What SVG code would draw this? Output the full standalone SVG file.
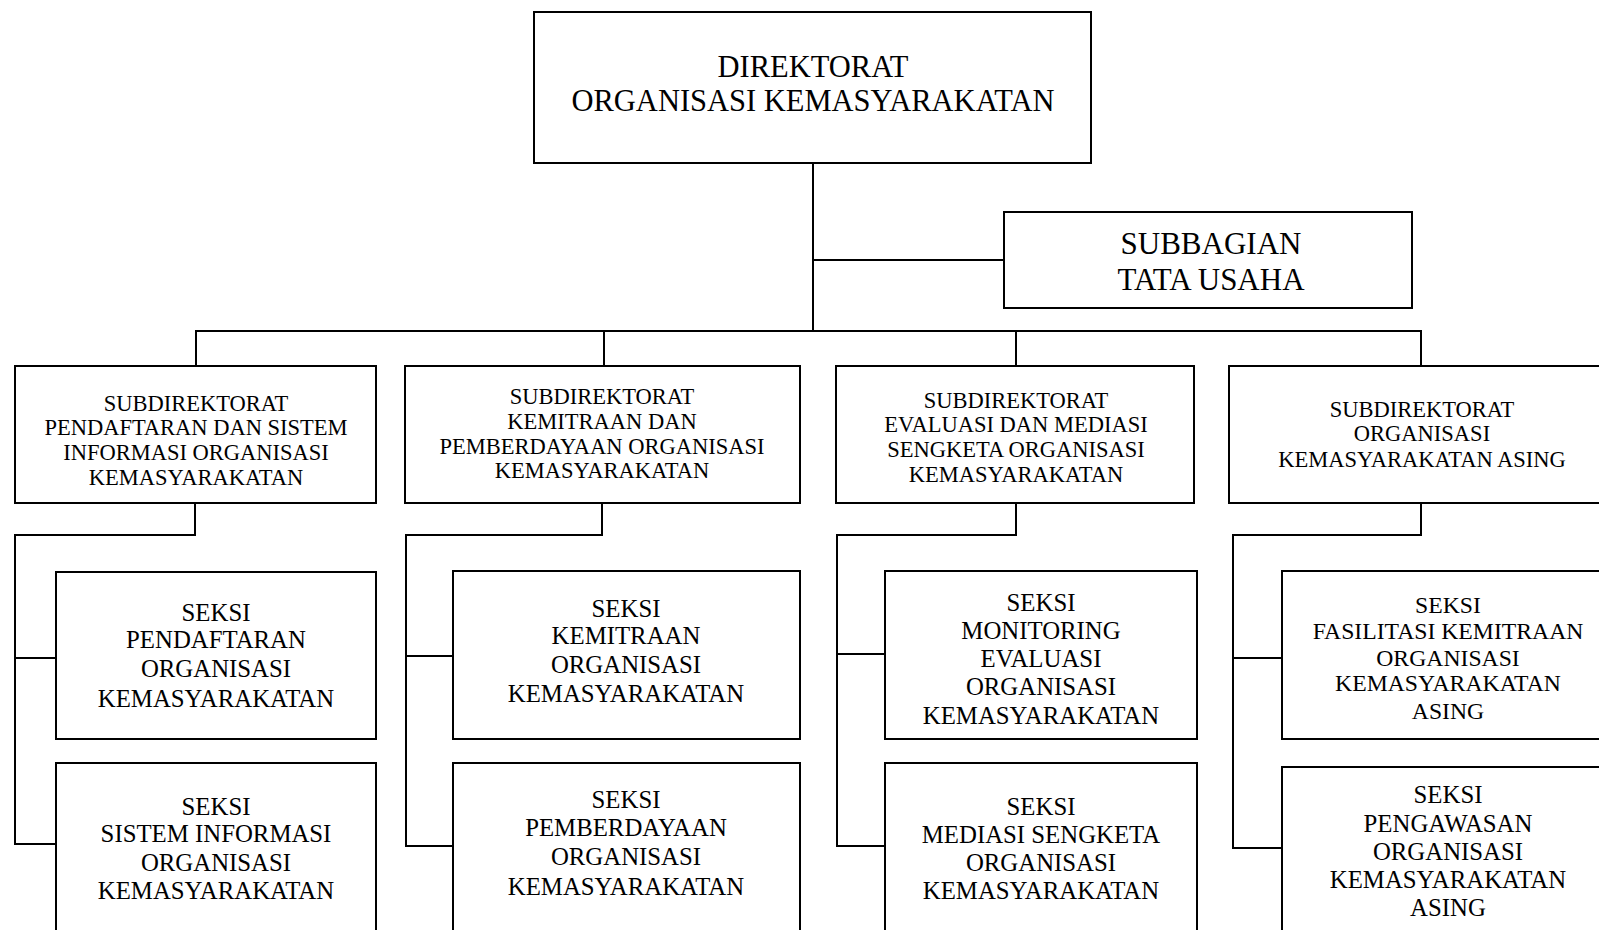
<svg xmlns="http://www.w3.org/2000/svg" width="1599" height="930" viewBox="0 0 1599 930">
<style>
.box{fill:#fff;stroke:#000;stroke-width:2}
.ln{fill:none;stroke:#000;stroke-width:2}
text{font-family:"Liberation Serif","Times New Roman",serif;fill:#000;text-anchor:middle}
.t1{font-size:30.5px}
.t2{font-size:31px}
.t3{font-size:22.5px}
.t4{font-size:24.8px}
.t5{font-size:23.7px}
</style>
<rect width="1599" height="930" fill="#fff"/>
<g id="connectors">
<path class="ln" d="M813 163V331"/>
<path class="ln" d="M813 260H1004"/>
<path class="ln" d="M196 366V331H1421V366"/>
<path class="ln" d="M604 331V366"/>
<path class="ln" d="M1016 331V366"/>
<path class="ln" d="M195 503V535H15V844H56"/>
<path class="ln" d="M15 658H56"/>
<path class="ln" d="M602 503V535H406V846H453"/>
<path class="ln" d="M406 656H453"/>
<path class="ln" d="M1016 503V535H837V846H885"/>
<path class="ln" d="M837 654H885"/>
<path class="ln" d="M1421 503V535H1233V848H1282"/>
<path class="ln" d="M1233 658H1282"/>
</g>
<g id="direktorat">
<rect class="box" x="534" y="12" width="557" height="151"/>
<text class="t1" x="813" y="77">DIREKTORAT</text>
<text class="t1" x="813" y="111">ORGANISASI KEMASYARAKATAN</text>
</g>
<g id="subbagian">
<rect class="box" x="1004" y="212" width="408" height="96"/>
<text class="t2" x="1211" y="254">SUBBAGIAN</text>
<text class="t2" x="1211" y="290">TATA USAHA</text>
</g>
<g id="subdit1">
<rect class="box" x="15" y="366" width="361" height="137"/>
<text class="t3" x="196" y="411">SUBDIREKTORAT</text>
<text class="t3" x="196" y="435">PENDAFTARAN DAN SISTEM</text>
<text class="t3" x="196" y="460">INFORMASI ORGANISASI</text>
<text class="t3" x="196" y="485">KEMASYARAKATAN</text>
</g>
<g id="subdit2">
<rect class="box" x="405" y="366" width="395" height="137"/>
<text class="t3" x="602" y="404">SUBDIREKTORAT</text>
<text class="t3" x="602" y="429">KEMITRAAN DAN</text>
<text class="t3" x="602" y="454">PEMBERDAYAAN ORGANISASI</text>
<text class="t3" x="602" y="478">KEMASYARAKATAN</text>
</g>
<g id="subdit3">
<rect class="box" x="836" y="366" width="358" height="137"/>
<text class="t3" x="1016" y="408">SUBDIREKTORAT</text>
<text class="t3" x="1016" y="432">EVALUASI DAN MEDIASI</text>
<text class="t3" x="1016" y="457">SENGKETA ORGANISASI</text>
<text class="t3" x="1016" y="482">KEMASYARAKATAN</text>
</g>
<g id="subdit4">
<rect class="box" x="1229" y="366" width="380" height="137"/>
<text class="t3" x="1422" y="417">SUBDIREKTORAT</text>
<text class="t3" x="1422" y="441">ORGANISASI</text>
<text class="t3" x="1422" y="467">KEMASYARAKATAN ASING</text>
</g>
<g id="seksi1a">
<rect class="box" x="56" y="572" width="320" height="167"/>
<text class="t4" x="216" y="621">SEKSI</text>
<text class="t4" x="216" y="648">PENDAFTARAN</text>
<text class="t4" x="216" y="677">ORGANISASI</text>
<text class="t4" x="216" y="707">KEMASYARAKATAN</text>
</g>
<g id="seksi1b">
<rect class="box" x="56" y="763" width="320" height="180"/>
<text class="t4" x="216" y="815">SEKSI</text>
<text class="t4" x="216" y="842">SISTEM INFORMASI</text>
<text class="t4" x="216" y="871">ORGANISASI</text>
<text class="t4" x="216" y="899">KEMASYARAKATAN</text>
</g>
<g id="seksi2a">
<rect class="box" x="453" y="571" width="347" height="168"/>
<text class="t4" x="626" y="617">SEKSI</text>
<text class="t4" x="626" y="644">KEMITRAAN</text>
<text class="t4" x="626" y="673">ORGANISASI</text>
<text class="t4" x="626" y="702">KEMASYARAKATAN</text>
</g>
<g id="seksi2b">
<rect class="box" x="453" y="763" width="347" height="180"/>
<text class="t4" x="626" y="808">SEKSI</text>
<text class="t4" x="626" y="836">PEMBERDAYAAN</text>
<text class="t4" x="626" y="865">ORGANISASI</text>
<text class="t4" x="626" y="895">KEMASYARAKATAN</text>
</g>
<g id="seksi3a">
<rect class="box" x="885" y="571" width="312" height="168"/>
<text class="t4" x="1041" y="611">SEKSI</text>
<text class="t4" x="1041" y="639">MONITORING</text>
<text class="t4" x="1041" y="667">EVALUASI</text>
<text class="t4" x="1041" y="695">ORGANISASI</text>
<text class="t4" x="1041" y="724">KEMASYARAKATAN</text>
</g>
<g id="seksi3b">
<rect class="box" x="885" y="763" width="312" height="180"/>
<text class="t4" x="1041" y="815">SEKSI</text>
<text class="t4" x="1041" y="843">MEDIASI SENGKETA</text>
<text class="t4" x="1041" y="871">ORGANISASI</text>
<text class="t4" x="1041" y="899">KEMASYARAKATAN</text>
</g>
<g id="seksi4a">
<rect class="box" x="1282" y="571" width="330" height="168"/>
<text class="t5" x="1448" y="613">SEKSI</text>
<text class="t5" x="1448" y="639">FASILITASI KEMITRAAN</text>
<text class="t5" x="1448" y="666">ORGANISASI</text>
<text class="t5" x="1448" y="691">KEMASYARAKATAN</text>
<text class="t5" x="1448" y="719">ASING</text>
</g>
<g id="seksi4b">
<rect class="box" x="1282" y="767" width="330" height="180"/>
<text class="t4" x="1448" y="803">SEKSI</text>
<text class="t4" x="1448" y="832">PENGAWASAN</text>
<text class="t4" x="1448" y="860">ORGANISASI</text>
<text class="t4" x="1448" y="888">KEMASYARAKATAN</text>
<text class="t4" x="1448" y="916">ASING</text>
</g>
</svg>
